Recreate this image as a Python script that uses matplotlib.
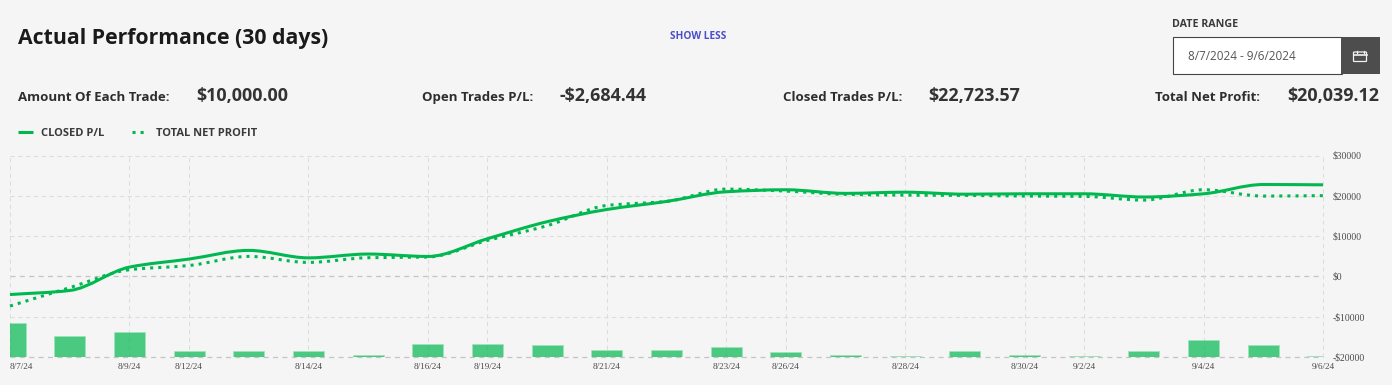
import matplotlib
matplotlib.use("Agg")
import matplotlib.pyplot as plt
from matplotlib.path import Path
from matplotlib.patches import PathPatch, Rectangle, FancyBboxPatch
from matplotlib.lines import Line2D

W, H = 1392, 385

dates = ["8/7/24", "8/8/24", "8/9/24", "8/12/24", "8/13/24", "8/14/24", "8/15/24", "8/16/24",
         "8/19/24", "8/20/24", "8/21/24", "8/22/24", "8/23/24", "8/26/24", "8/27/24", "8/28/24",
         "8/29/24", "8/30/24", "9/2/24", "9/3/24", "9/4/24", "9/5/24", "9/6/24"]
shown_dates = ["8/7/24", "8/9/24", "8/12/24", "8/14/24", "8/16/24", "8/19/24", "8/21/24",
               "8/23/24", "8/26/24", "8/28/24", "8/30/24", "9/2/24", "9/4/24", "9/6/24"]
closed_pl = [-4500, -3500, 2300, 4300, 6450, 4600, 5550, 4950, 9350, 13570, 16600, 18600,
             21000, 21500, 20600, 20900, 20400, 20500, 20500, 19700, 20500, 22800, 22723]
total_net = [-7350, -2800, 1650, 2700, 4960, 3470, 4640, 4800, 8930, 12580, 17600, 18600,
             21660, 21170, 20350, 20170, 20100, 19930, 19850, 18930, 21500, 19930, 20039]
bar_values = [34, 21, 25, 6, 6, 6, 2.5, 13, 13, 12, 7.5, 7.5, 10.5, 5.5, 2.5, 1, 6, 2.5, 1, 6, 17, 12, 1]
y_ticks = [-20000, -10000, 0, 10000, 20000, 30000]
y_labels = ["-$20000", "-$10000", "$0", "$10000", "$20000", "$30000"]

BG = "#f5f5f5"
GREEN = "#00b84f"
DARK = "#2a2a2a"
SANS = ["Open Sans", "DejaVu Sans"]
SERIF = ["Liberation Serif", "DejaVu Serif"]


def fx(x):
    return x / W


def fy(y):
    return 1 - y / H


fig = plt.figure(figsize=(W / 100, H / 100), dpi=100, facecolor=BG)
L, R, T, B = 10.0, 1323, 155.5, 357
ax = fig.add_axes([fx(L), fy(B), (R - L) / W, (B - T) / H], facecolor="none")
ax2 = ax.twinx()
ax.set_zorder(2)
ax2.set_zorder(1)
ax2.yaxis.set_visible(False)

xs = list(range(len(dates)))
ax.set_xlim(0, len(dates) - 1)
ax.set_ylim(-20000, 30000)
ax2.set_ylim(0, B - T)

for a in (ax, ax2):
    for s in a.spines.values():
        s.set_visible(False)

# Bars
ax2.bar(xs, bar_values, width=0.52, color=GREEN, alpha=0.7, edgecolor="#9fe3bb", linewidth=0.7, zorder=3)

# Grid
dash = (0, (4, 3.5))
for y in y_ticks:
    strong = y in (0, -20000)
    ax2.axhline(y=(y + 20000) / 50000 * (B - T), color="#c4c4c4" if strong else "#dddddd",
                lw=0.9 if strong else 0.75, ls=dash, zorder=1, clip_on=False)
for d in shown_dates:
    ax2.axvline(dates.index(d), color="#dddddd", lw=0.75, ls=dash, zorder=1, clip_on=False)


def smooth(values):
    """Monotone cubic Bezier through the values (no overshoot between points)."""
    n = len(values)
    deltas = [values[i + 1] - values[i] for i in range(n - 1)]
    slopes = [deltas[0]] + [0.0] * (n - 2) + [deltas[-1]]
    for i in range(1, n - 1):
        a, b = deltas[i - 1], deltas[i]
        slopes[i] = 2 * a * b / (a + b) if a * b > 0 else 0.0
    verts = [(xs[0], values[0])]
    codes = [Path.MOVETO]
    for i in range(n - 1):
        verts += [(xs[i] + 1 / 3, values[i] + slopes[i] / 3),
                  (xs[i + 1] - 1 / 3, values[i + 1] - slopes[i + 1] / 3),
                  (xs[i + 1], values[i + 1])]
        codes += [Path.CURVE4] * 3
    return Path(verts, codes)


ax.add_patch(PathPatch(smooth(total_net), fill=False, edgecolor=GREEN, lw=2.2,
                       ls=(0, (1, 1.65)), capstyle="butt", zorder=4, clip_on=False))
ax.add_patch(PathPatch(smooth(closed_pl), fill=False, edgecolor=GREEN, lw=2.2, zorder=5,
                       capstyle="butt", clip_on=False))

# Axes labels
ax.set_xticks([dates.index(d) for d in shown_dates])
ax.set_xticklabels(shown_dates, fontfamily=SERIF, fontsize=6.6, color="#4a4a4a")
ax.get_xticklabels()[0].set_ha("left")
ax.yaxis.tick_right()
ax.set_yticks(y_ticks)
ax.set_yticklabels(y_labels, fontfamily=SERIF, fontsize=6.9, color="#4a4a4a")
ax.tick_params(axis="both", length=0)
ax.tick_params(axis="x", pad=4.2)
ax.tick_params(axis="y", pad=7.2)

# Legend
handles = [Line2D([], [], color=GREEN, lw=2.2, solid_capstyle="butt"),
           Line2D([], [], color=GREEN, lw=2.2, ls=(0, (1, 1.65)), dash_capstyle="butt")]
fig.legend(handles, ["CLOSED P/L", "TOTAL NET PROFIT"], loc="center left",
           bbox_to_anchor=(fx(18), fy(133)), ncol=2, frameon=False, borderpad=0, borderaxespad=0,
           handlelength=1.38, handletextpad=0.72, columnspacing=2.5,
           prop={"family": SANS, "size": 8.0, "weight": "bold"}, labelcolor="#3a3a3a")


# Header text
def put(x, y, s, size, weight="bold", color=DARK, ha="left"):
    fig.text(fx(x), fy(y), s, fontsize=size, fontweight=weight, color=color,
             ha=ha, va="center", fontfamily=SANS)


put(18, 38.5, "Actual Performance (30 days)", 15.35, color="#1a1a1a")
put(670, 36.5, "SHOW LESS", 7.3, color="#4a4fc9")
put(1172, 24.5, "DATE RANGE", 7.7, color="#3a3a3a")
for label, lx, value, vx in [("Amount Of Each Trade:", 18, "$10,000.00", 196),
                             ("Open Trades P/L:", 422, "-$2,684.44", 560),
                             ("Closed Trades P/L:", 783, "$22,723.57", 928),
                             ("Total Net Profit:", 1155, "$20,039.12", 1287)]:
    put(lx, 97.5, label, 9.5, color="#2e2e2e")
    put(vx, 96, value, 12.9, color="#333333")

# Date range box
fig.add_artist(Rectangle((fx(1172.5), fy(73.5)), 169 / W, 36 / H, transform=fig.transFigure,
                         facecolor="white", edgecolor="#444444", lw=0.8))
fig.add_artist(Rectangle((fx(1341), fy(74)), 39 / W, 37 / H, transform=fig.transFigure,
                         facecolor="#4d4d4d", edgecolor="none"))
put(1188, 57, "8/7/2024 - 9/6/2024", 8.45, weight="normal", color="#555555")
# Calendar icon
fig.add_artist(FancyBboxPatch((fx(1353.5), fy(61.5)), 13 / W, 9.5 / H, transform=fig.transFigure,
                              boxstyle="round,pad=0,rounding_size=0.001", facecolor="none",
                              edgecolor="#f2f2f2", lw=0.9))
fig.add_artist(Line2D([fx(1353.5), fx(1366.5)], [fy(55), fy(55)], transform=fig.transFigure,
                      color="#f2f2f2", lw=1.2))
for cx in (1356.5, 1363.5):
    fig.add_artist(Line2D([fx(cx), fx(cx)], [fy(50.5), fy(53)], transform=fig.transFigure,
                          color="#f2f2f2", lw=0.9))

fig.savefig("out.png", dpi=100, facecolor=BG)
